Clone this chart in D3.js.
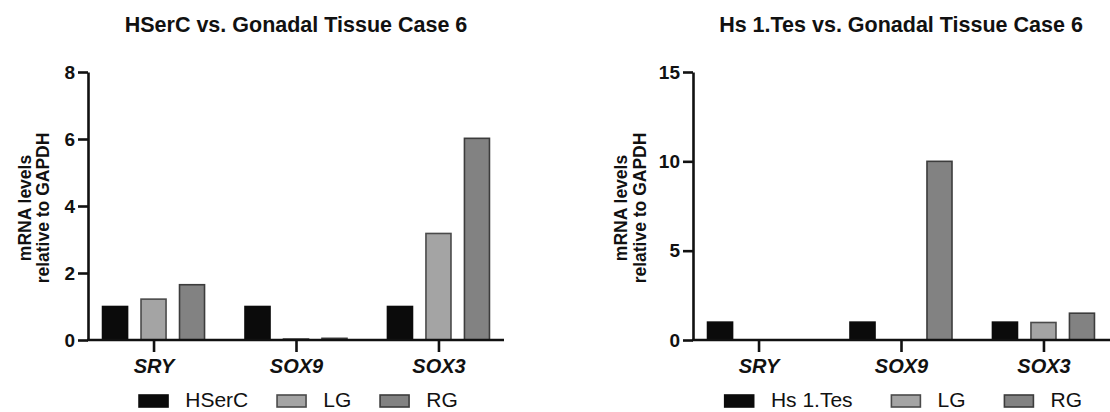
<!DOCTYPE html>
<html>
<head>
<meta charset="utf-8">
<script src="https://cdn.jsdelivr.net/npm/d3@7"></script>
<style>
  html, body { margin: 0; padding: 0; background: #fff; }
  svg { display: block; }
  text { font-family: "Liberation Sans", Arial, Helvetica, sans-serif; fill: #111; }
</style>
</head>
<body>
<svg id="chart" width="1110" height="412"></svg>
<script>
// ---------- data ----------
const categories = ["SRY", "SOX9", "SOX3"];

const leftTitle = "HSerC vs. Gonadal Tissue Case 6";
const leftSeries = ["HSerC", "LG", "RG"];
const leftHSerC = [1.0, 1.0, 1.0];
const leftLG = [1.22, 0.03, 3.18];
const leftRG = [1.65, 0.05, 6.02];
const leftTicks = [0, 2, 4, 6, 8];

const rightTitle = "Hs 1.Tes vs. Gonadal Tissue Case 6";
const rightSeries = ["Hs 1.Tes", "LG", "RG"];
const rightHsTes = [1.0, 1.0, 1.0];
const rightLG = [0, 0, 0.98];
const rightRG = [0, 10.0, 1.5];
const rightTicks = [0, 5, 10, 15];

const yLabelLines = ["mRNA levels", "relative to GAPDH"];

// ---------- styles ----------
const fills = ["#0b0b0b", "#a4a4a4", "#828282"];
const strokes = ["#0b0b0b", "#4a4a4a", "#3c3c3c"];

const svg = d3.select("#chart");

function drawPanel(cfg) {
  const g = svg.append("g");
  const L = cfg.left, W = 416, top = 72, bottom = 340;

  const x0 = d3.scalePoint().domain(categories).range([L, L + W]).padding(0.46);
  const x1 = d3.scaleBand().domain(d3.range(cfg.series.length)).range([-51, 51]).paddingInner(0.35);
  const y = d3.scaleLinear().domain([0, d3.max(cfg.ticks)]).range([bottom, top]);

  // bars
  cfg.values.forEach((vals, si) => {
    g.append("g").selectAll("rect")
      .data(vals.map((v, ci) => ({ v, c: categories[ci] })))
      .join("rect")
      .filter(d => d.v > 0)
      .attr("x", d => x0(d.c) + x1(si))
      .attr("width", x1.bandwidth())
      .attr("y", d => y(d.v))
      .attr("height", d => y(0) - y(d.v))
      .attr("fill", fills[si])
      .attr("stroke", strokes[si])
      .attr("stroke-width", 1.6);
  });

  // y axis
  const ya = g.append("g").attr("transform", `translate(${L},0)`)
    .call(d3.axisLeft(y).tickValues(cfg.ticks).tickFormat(d3.format("d")).tickSize(10).tickSizeOuter(0).tickPadding(3));
  ya.selectAll("path, line").attr("stroke", "#111").attr("stroke-width", 2.6);
  ya.selectAll("text").attr("font-size", 19).attr("font-weight", "bold").attr("fill", "#111");

  // x axis
  const xa = g.append("g").attr("transform", `translate(0,${bottom})`)
    .call(d3.axisBottom(x0).tickSize(12).tickSizeOuter(0).tickPadding(7));
  xa.select("path.domain").attr("d", `M${L - 1},0H${cfg.axisEnd}`);
  xa.selectAll("path, line").attr("stroke", "#111").attr("stroke-width", 2.6);
  xa.selectAll("text").attr("font-size", 20).attr("font-weight", "bold")
    .attr("font-style", "italic").attr("fill", "#111");

  // title
  g.append("text").attr("x", L + W / 2).attr("y", 32).attr("text-anchor", "middle")
    .attr("font-size", 21.5).attr("font-weight", "bold").text(cfg.title);

  // y label
  yLabelLines.forEach((t, i) => {
    g.append("text")
      .attr("transform", `translate(${cfg.ylabX[i]},208) rotate(-90)`)
      .attr("text-anchor", "middle").attr("dy", "0.35em")
      .attr("font-size", 17.5).attr("font-weight", "bold").text(t);
  });

  // legend
  const lg = g.append("g");
  let cx = 0;
  cfg.series.forEach((s, i) => {
    const item = lg.append("g").attr("transform", `translate(${cx},0)`);
    item.append("rect").attr("x", 0.8).attr("y", 395).attr("width", 29).attr("height", 12)
      .attr("fill", fills[i]).attr("stroke", strokes[i]).attr("stroke-width", 1.6);
    const t = item.append("text").attr("x", 47).attr("y", 406.5)
      .attr("font-size", 21).attr("fill", "#222").text(s);
    cx += 47 + t.node().getComputedTextLength() + cfg.legendGap;
  });
  const totalW = cx - cfg.legendGap;
  lg.attr("transform", `translate(${L + W / 2 - totalW / 2 + 2},0)`);
}

drawPanel({
  left: 88, axisEnd: 504, title: leftTitle, series: leftSeries,
  values: [leftHSerC, leftLG, leftRG], ticks: leftTicks,
  ylabX: [25, 43], legendGap: 28
});

drawPanel({
  left: 693, axisEnd: 1110, title: rightTitle, series: rightSeries,
  values: [rightHsTes, rightLG, rightRG], ticks: rightTicks,
  ylabX: [621, 640], legendGap: 38
});
</script>
</body>
</html>
